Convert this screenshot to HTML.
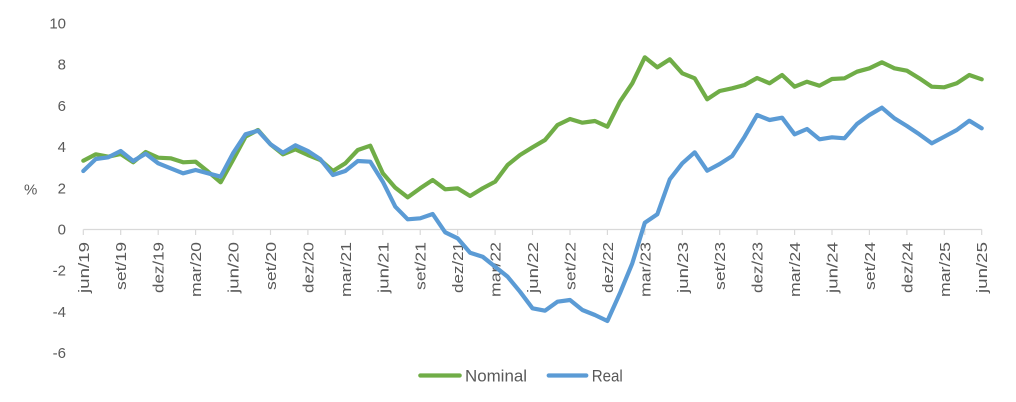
<!DOCTYPE html>
<html>
<head>
<meta charset="utf-8">
<style>
html,body{margin:0;padding:0;background:#fff;}
svg{display:block;}
text{font-family:"Liberation Sans",sans-serif;fill:#595959;}
</style>
</head>
<body>
<svg width="1016" height="402" viewBox="0 0 1016 402" xmlns="http://www.w3.org/2000/svg">
<rect width="1016" height="402" fill="#fff"/>
<!-- y labels -->
<g font-size="15" text-anchor="end">
<text x="66" y="28.5">10</text>
<text x="66" y="69.7">8</text>
<text x="66" y="110.9">6</text>
<text x="66" y="152.1">4</text>
<text x="66" y="193.3">2</text>
<text x="66" y="234.5">0</text>
<text x="66" y="275.7">-2</text>
<text x="66" y="316.9">-4</text>
<text x="66" y="358.1">-6</text>
</g>
<text x="24" y="194.5" font-size="15">%</text>
<!-- axis -->
<line x1="83.3" y1="229.5" x2="981.7" y2="229.5" stroke="#d9d9d9" stroke-width="1.2"/>
<g stroke="#d9d9d9" stroke-width="1.2">
<line x1="83.3" y1="229.5" x2="83.3" y2="235"/>
<line x1="120.7" y1="229.5" x2="120.7" y2="235"/>
<line x1="158.2" y1="229.5" x2="158.2" y2="235"/>
<line x1="195.6" y1="229.5" x2="195.6" y2="235"/>
<line x1="233.0" y1="229.5" x2="233.0" y2="235"/>
<line x1="270.5" y1="229.5" x2="270.5" y2="235"/>
<line x1="307.9" y1="229.5" x2="307.9" y2="235"/>
<line x1="345.3" y1="229.5" x2="345.3" y2="235"/>
<line x1="382.8" y1="229.5" x2="382.8" y2="235"/>
<line x1="420.2" y1="229.5" x2="420.2" y2="235"/>
<line x1="457.6" y1="229.5" x2="457.6" y2="235"/>
<line x1="495.1" y1="229.5" x2="495.1" y2="235"/>
<line x1="532.5" y1="229.5" x2="532.5" y2="235"/>
<line x1="570.0" y1="229.5" x2="570.0" y2="235"/>
<line x1="607.4" y1="229.5" x2="607.4" y2="235"/>
<line x1="644.8" y1="229.5" x2="644.8" y2="235"/>
<line x1="682.3" y1="229.5" x2="682.3" y2="235"/>
<line x1="719.7" y1="229.5" x2="719.7" y2="235"/>
<line x1="757.1" y1="229.5" x2="757.1" y2="235"/>
<line x1="794.6" y1="229.5" x2="794.6" y2="235"/>
<line x1="832.0" y1="229.5" x2="832.0" y2="235"/>
<line x1="869.4" y1="229.5" x2="869.4" y2="235"/>
<line x1="906.9" y1="229.5" x2="906.9" y2="235"/>
<line x1="944.3" y1="229.5" x2="944.3" y2="235"/>
<line x1="981.7" y1="229.5" x2="981.7" y2="235"/>
</g>
<!-- x labels -->
<g font-size="15" text-anchor="end" lengthAdjust="spacingAndGlyphs">
<text transform="translate(88.8,242) rotate(-90)" textLength="51" lengthAdjust="spacingAndGlyphs">jun/19</text>
<text transform="translate(126.2,242) rotate(-90)" textLength="48" lengthAdjust="spacingAndGlyphs">set/19</text>
<text transform="translate(163.7,242) rotate(-90)" textLength="51" lengthAdjust="spacingAndGlyphs">dez/19</text>
<text transform="translate(201.1,242) rotate(-90)" textLength="55" lengthAdjust="spacingAndGlyphs">mar/20</text>
<text transform="translate(238.5,242) rotate(-90)" textLength="51" lengthAdjust="spacingAndGlyphs">jun/20</text>
<text transform="translate(276.0,242) rotate(-90)" textLength="48" lengthAdjust="spacingAndGlyphs">set/20</text>
<text transform="translate(313.4,242) rotate(-90)" textLength="51" lengthAdjust="spacingAndGlyphs">dez/20</text>
<text transform="translate(350.8,242) rotate(-90)" textLength="55" lengthAdjust="spacingAndGlyphs">mar/21</text>
<text transform="translate(388.3,242) rotate(-90)" textLength="51" lengthAdjust="spacingAndGlyphs">jun/21</text>
<text transform="translate(425.7,242) rotate(-90)" textLength="48" lengthAdjust="spacingAndGlyphs">set/21</text>
<text transform="translate(463.1,242) rotate(-90)" textLength="51" lengthAdjust="spacingAndGlyphs">dez/21</text>
<text transform="translate(500.6,242) rotate(-90)" textLength="55" lengthAdjust="spacingAndGlyphs">mar/22</text>
<text transform="translate(538.0,242) rotate(-90)" textLength="51" lengthAdjust="spacingAndGlyphs">jun/22</text>
<text transform="translate(575.5,242) rotate(-90)" textLength="48" lengthAdjust="spacingAndGlyphs">set/22</text>
<text transform="translate(612.9,242) rotate(-90)" textLength="51" lengthAdjust="spacingAndGlyphs">dez/22</text>
<text transform="translate(650.3,242) rotate(-90)" textLength="55" lengthAdjust="spacingAndGlyphs">mar/23</text>
<text transform="translate(687.8,242) rotate(-90)" textLength="51" lengthAdjust="spacingAndGlyphs">jun/23</text>
<text transform="translate(725.2,242) rotate(-90)" textLength="48" lengthAdjust="spacingAndGlyphs">set/23</text>
<text transform="translate(762.6,242) rotate(-90)" textLength="51" lengthAdjust="spacingAndGlyphs">dez/23</text>
<text transform="translate(800.1,242) rotate(-90)" textLength="55" lengthAdjust="spacingAndGlyphs">mar/24</text>
<text transform="translate(837.5,242) rotate(-90)" textLength="51" lengthAdjust="spacingAndGlyphs">jun/24</text>
<text transform="translate(874.9,242) rotate(-90)" textLength="48" lengthAdjust="spacingAndGlyphs">set/24</text>
<text transform="translate(912.4,242) rotate(-90)" textLength="51" lengthAdjust="spacingAndGlyphs">dez/24</text>
<text transform="translate(949.8,242) rotate(-90)" textLength="55" lengthAdjust="spacingAndGlyphs">mar/25</text>
<text transform="translate(987.2,242) rotate(-90)" textLength="51" lengthAdjust="spacingAndGlyphs">jun/25</text>
</g>
<!-- Nominal -->
<polyline fill="none" stroke="#70ad47" stroke-width="4.2" stroke-linejoin="round" stroke-linecap="round" points="
83.3,160.7 95.8,154.3 108.3,156.7 120.7,154 133.2,162.3 145.7,152 158.2,157.7 170.6,158.3 183.1,162.3 195.6,161.7
208.1,171.7 220.6,182.3 233.0,160 245.5,136.7 258.0,130 270.5,144.3 283.0,154.3 295.4,149.3 307.9,155 320.4,160
332.9,171 345.3,163.3 357.8,150 370.3,145.7 382.8,173.3 395.3,187.7 407.7,197.3 420.2,188.3 432.7,180 445.2,189.3
457.6,188.3 470.1,196 482.6,188.3 495.1,181.7 507.6,165 520.0,155 532.5,147.3 545.0,140 557.5,125 570.0,119
582.4,122.7 594.9,121 607.4,126.7 619.9,101.7 632.3,83.3 644.8,57.3 657.3,67.3 669.8,59.3 682.3,73.3 694.7,78.3
707.2,99.3 719.7,91 732.2,88.3 744.6,85 757.1,78 769.6,83.3 782.1,75 794.6,86.7 807.0,81.7 819.5,85.7
832.0,79 844.5,78.3 857.0,71.7 869.4,68.3 881.9,62.3 894.4,68.3 906.9,70.7 919.3,78.3 931.8,86.7 944.3,87.3
956.8,83.3 969.3,75 981.7,79.3"/>
<!-- Real -->
<polyline fill="none" stroke="#5b9bd5" stroke-width="4.2" stroke-linejoin="round" stroke-linecap="round" points="
83.3,171 95.8,159 108.3,157.3 120.7,151 133.2,161 145.7,153.7 158.2,163.3 170.6,168.3 183.1,173.3 195.6,170
208.1,173.3 220.6,176.7 233.0,153.3 245.5,134.3 258.0,130.7 270.5,144.3 283.0,152.7 295.4,145.3 307.9,151 320.4,159.3
332.9,175 345.3,171 357.8,161 370.3,161.7 382.8,181.7 395.3,206.7 407.7,219.3 420.2,218.3 432.7,214 445.2,232.3
457.6,238.3 470.1,252.7 482.6,256.7 495.1,266.7 507.6,276.7 520.0,291.7 532.5,308.3 545.0,310.7 557.5,301.7 570.0,300
582.4,310 594.9,315 607.4,321 619.9,293.3 632.3,263.3 644.8,222.7 657.3,214.3 669.8,179.3 682.3,163.3 694.7,152.3
707.2,170.7 719.7,164 732.2,156 744.6,136.7 757.1,115 769.6,120 782.1,117.7 794.6,134.3 807.0,129 819.5,139.3
832.0,137.3 844.5,138.3 857.0,124 869.4,115 881.9,107.7 894.4,118.3 906.9,126 919.3,134.3 931.8,143.3 944.3,136.7
956.8,130 969.3,120.7 981.7,128.3"/>
<!-- legend -->
<line x1="420.3" y1="375.5" x2="459.7" y2="375.5" stroke="#70ad47" stroke-width="4.2" stroke-linecap="round"/>
<text x="465" y="381.5" font-size="17" textLength="62" lengthAdjust="spacingAndGlyphs">Nominal</text>
<line x1="548.7" y1="375.5" x2="586.3" y2="375.5" stroke="#5b9bd5" stroke-width="4.2" stroke-linecap="round"/>
<text x="591.7" y="381.5" font-size="17" textLength="31" lengthAdjust="spacingAndGlyphs">Real</text>
</svg>
</body>
</html>
